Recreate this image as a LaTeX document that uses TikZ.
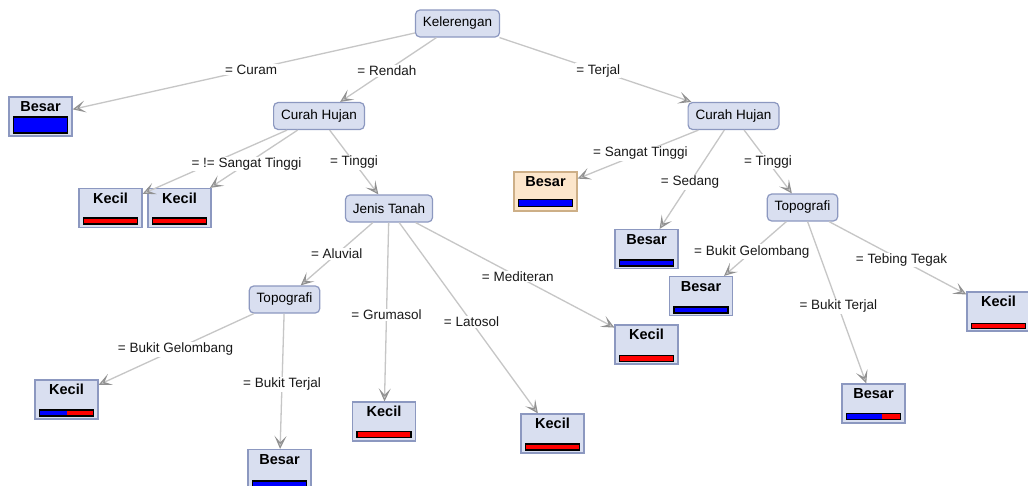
\documentclass[tikz,border=0pt]{standalone}
\usepackage{fontspec}
\setmainfont{Liberation Sans}
\usetikzlibrary{arrows.meta,calc}
\definecolor{nodefill}{RGB}{217,223,240}
\definecolor{nodedraw}{RGB}{140,152,192}
\definecolor{hlfill}{RGB}{252,230,203}
\definecolor{hldraw}{RGB}{205,175,135}
\definecolor{edgecol}{RGB}{198,198,198}
\definecolor{tipcol}{RGB}{145,145,145}
\definecolor{tipfill}{RGB}{200,200,200}
\definecolor{lblcol}{RGB}{25,25,25}
\newcommand\leafbar[4]{%
  \fill[red] ([shift={(-27,#2)}]#1.center) rectangle ([shift={(27,#2+#3)}]#1.center);
  \fill[blue] ([shift={(-27,#2)}]#1.center) rectangle ([shift={(-27+#4,#2+#3)}]#1.center);
  \draw[black, line width=1.2pt] ([shift={(-27,#2)}]#1.center) rectangle ([shift={(27,#2+#3)}]#1.center);
}
\begin{document}
\begin{tikzpicture}[x=1pt,y=-1pt,
  inner/.style={draw=nodedraw, fill=nodefill, rounded corners=4.5pt, line width=1.2pt,
    minimum height=27pt, inner xsep=7.5pt, font=\fontsize{13.5}{15}\selectfont},
  leaf/.style={draw=nodedraw, fill=nodefill, line width=1.2pt, minimum width=63pt,
    minimum height=39pt, inner sep=3pt, text height=11pt, text depth=20.6pt,
    font=\fontsize{14.5}{16}\selectfont\bfseries},
  hl/.style={leaf, draw=hldraw, fill=hlfill},
  edge/.style={draw=edgecol, line width=1.3pt,
    -{Stealth[length=13pt,width=12pt,inset=6.5pt,color=tipcol,fill=tipfill,line width=1.1pt]}},
  lbl/.style={fill=white, inner sep=1pt, text=lblcol, font=\fontsize{13.5}{15}\selectfont}]
\useasboundingbox[fill=white] (0,0) rectangle (1028,485);

% inner nodes
\node[inner] (K) at (457.5,23.5) {Kelerengan};
\node[inner] (CH1) at (319,116) {Curah Hujan};
\node[inner] (CH2) at (733.5,116) {Curah Hujan};
\node[inner] (JT) at (389,208.5) {Jenis Tanah};
\node[inner] (TP1) at (284.5,299.5) {Topografi};
\node[inner] (TP2) at (802.5,207.5) {Topografi};

% leaves
\node[leaf] (B1) at (40.5,116.5) {Besar};
\node[leaf] (KC1) at (110.5,208) {Kecil};
\node[leaf] (KC2) at (179.5,208) {Kecil};
\node[leaf] (KC3) at (66.5,399.5) {Kecil};
\node[leaf] (BS2) at (279.5,469) {Besar};
\node[leaf] (KC4) at (384,421.5) {Kecil};
\node[leaf] (KC5) at (552.5,433.5) {Kecil};
\node[leaf] (KC6) at (646.5,344.5) {Kecil};
\node[hl] (BS3) at (545.5,191.5) {Besar};
\node[leaf] (BS4) at (646.5,249) {Besar};
\node[leaf] (BS5) at (701,296) {Besar};
\node[leaf] (BS6) at (873.5,403.5) {Besar};
\node[leaf] (KC7) at (998.5,311.5) {Kecil};

% bars
\leafbar{B1}{0.5}{16}{54}
\leafbar{KC1}{10}{6}{0}
\leafbar{KC2}{10}{6}{0}
\leafbar{KC3}{10.5}{6}{27}
\leafbar{BS2}{12}{6}{54}
\leafbar{KC4}{10}{6}{0}
\leafbar{KC5}{10.5}{6}{0}
\leafbar{KC6}{11}{6}{0}
\leafbar{BS3}{8}{7}{54}
\leafbar{BS4}{11}{6}{54}
\leafbar{BS5}{11}{6}{54}
\leafbar{BS6}{10}{6}{35}
\leafbar{KC7}{12}{5}{0}

% edges
\draw[edge] (K) -- (B1);
\draw[edge] (K) -- (CH1);
\draw[edge] (K) -- (CH2);
\draw[edge] (CH1) -- (KC1);
\draw[edge] (CH1) -- (KC2);
\draw[edge] (CH1) -- (JT);
\draw[edge] (JT) -- (TP1);
\draw[edge] (JT) -- (KC4);
\draw[edge] (JT) -- (KC5);
\draw[edge] (JT) -- (KC6);
\draw[edge] (TP1) -- (KC3);
\draw[edge] (TP1) -- (BS2);
\draw[edge] (CH2) -- (BS3);
\draw[edge] (CH2) -- (BS4);
\draw[edge] (CH2) -- (TP2);
\draw[edge] (TP2) -- (BS5);
\draw[edge] (TP2) -- (BS6);
\draw[edge] (TP2) -- (KC7);

% labels
\node[lbl] (l1) at ($(K)!0.495!(B1)$) {= Curam};
\node[lbl] (l2) at ($(K)!0.51!(CH1)$) {= Rendah};
\node[lbl] (l3) at ($(K)!0.51!(CH2)$) {= Terjal};
\node[lbl] (l4) at ($(CH1)!0.52!(KC2)$) {= != Sangat Tinggi};
\node[lbl] (l5) at ($(CH1)!0.5!(JT)$) {= Tinggi};
\node[lbl] (l6) at ($(CH2)!0.495!(BS3)$) {= Sangat Tinggi};
\node[lbl] (l7) at ($(CH2)!0.5!(BS4)$) {= Sedang};
\node[lbl] (l8) at ($(CH2)!0.5!(TP2)$) {= Tinggi};
\node[lbl] (l9) at ($(JT)!0.5!(TP1)$) {= Aluvial};
\node[lbl] (l10) at ($(JT)!0.5!(KC4)$) {= Grumasol};
\node[lbl] (l11) at ($(JT)!0.505!(KC5)$) {= Latosol};
\node[lbl] (l12) at ($(JT)!0.5!(KC6)$) {= Mediteran};
\node[lbl] (l13) at ($(TP1)!0.5!(KC3)$) {= Bukit Gelombang};
\node[lbl] (l14) at ($(TP1)!0.5!(BS2)$) {= Bukit Terjal};
\node[lbl] (l15) at ($(TP2)!0.5!(BS5)$) {= Bukit Gelombang};
\node[lbl] (l16) at ($(TP2)!0.505!(BS6)$) {= Bukit Terjal};
\node[lbl] (l17) at ($(TP2)!0.505!(KC7)$) {= Tebing Tegak};
\end{tikzpicture}
\end{document}
